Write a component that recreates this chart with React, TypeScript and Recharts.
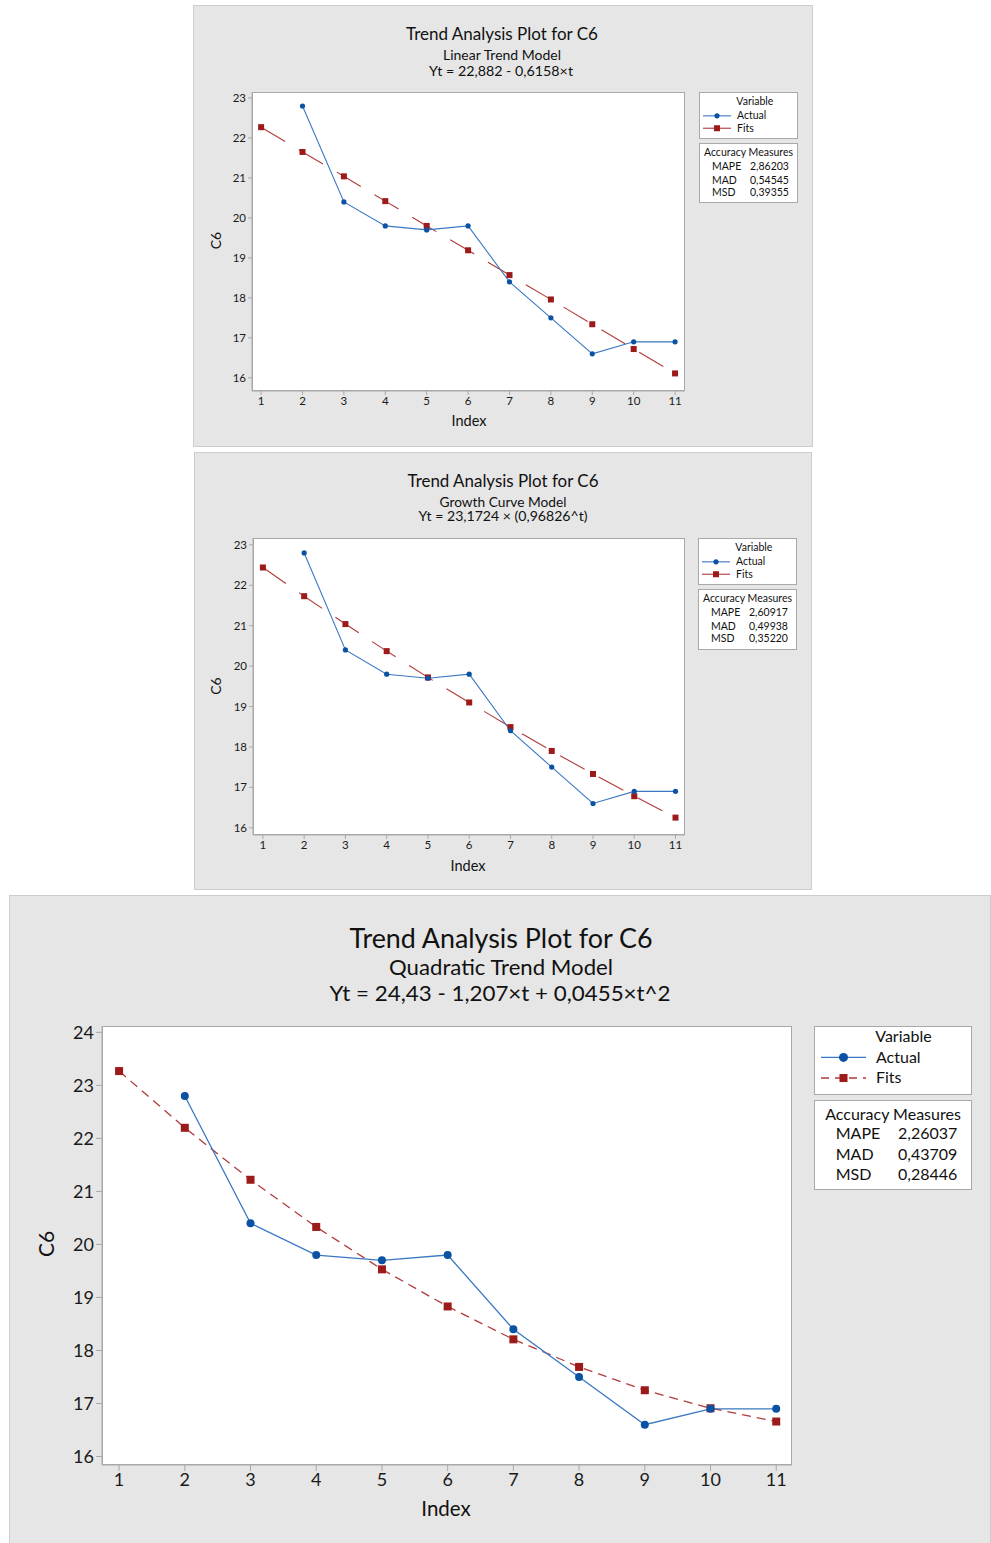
import React from "react";
import { LineChart, Line, XAxis, YAxis } from "recharts";

// index 1..11, actual value missing at t=1
const index = [1, 2, 3, 4, 5, 6, 7, 8, 9, 10, 11];
const actual = [null, 22.8, 20.4, 19.8, 19.7, 19.8, 18.4, 17.5, 16.6, 16.9, 16.9];
const linearFits = [22.27, 21.65, 21.04, 20.42, 19.8, 19.19, 18.57, 17.96, 17.34, 16.72, 16.11];
const growthFits = [22.44, 21.73, 21.04, 20.37, 19.72, 19.1, 18.49, 17.9, 17.33, 16.78, 16.25];
const quadFits = [23.27, 22.2, 21.22, 20.33, 19.53, 18.83, 18.21, 17.69, 17.25, 16.91, 16.66];
const yTicksSmall = [16, 17, 18, 19, 20, 21, 22, 23];
const yTicksBig = [16, 17, 18, 19, 20, 21, 22, 23, 24];
const linearAcc = ["2,86203", "0,54545", "0,39355"];
const growthAcc = ["2,60917", "0,49938", "0,35220"];
const quadAcc = ["2,26037", "0,43709", "0,28446"];
const accLabels = ["MAPE", "MAD", "MSD"];

const FONT = "Lato, 'Open Sans', sans-serif";
const BLUE_LINE = "#3a78c4";
const BLUE_DOT = "#0b52a3";
const RED_LINE = "#b23a3a";
const RED_DOT = "#9c1a1a";

type Rect = { x: number; y: number; w: number; h: number };

const squareDot = (size: number) => (p: any) => {
  if (p.value == null || p.cy == null || isNaN(p.cy)) return <g key={`s-${p.index}`} />;
  return (
    <rect key={`s-${p.index}`} x={p.cx - size / 2} y={p.cy - size / 2} width={size} height={size} fill={RED_DOT} />
  );
};
const circleDot = (r: number) => (p: any) => {
  if (p.value == null || p.cy == null || isNaN(p.cy)) return <g key={`c-${p.index}`} />;
  return <circle key={`c-${p.index}`} cx={p.cx} cy={p.cy} r={r} fill={BLUE_DOT} />;
};

function Panel(props: {
  box: Rect;
  plot: Rect;
  xDomain: [number, number];
  yDomain: [number, number];
  yTicks: number[];
  fits: number[];
  tickFont: number;
  tickSize: number;
  lineW: number;
  dotR: number;
  sq: number;
  dash: string;
}) {
  const { box, plot } = props;
  const data = index.map((t, i) => ({ t, actual: actual[i], fits: props.fits[i] }));
  const tickStyle = { fontSize: props.tickFont, fill: "#1a1a1a", fontFamily: FONT };
  return (
    <>
      <div
        style={{
          position: "absolute", left: box.x, top: box.y, width: box.w, height: box.h,
          background: "#e6e6e6", border: "1px solid #cdcdcd", boxSizing: "border-box",
        }}
      />
      <div
        style={{
          position: "absolute", left: plot.x, top: plot.y, width: plot.w, height: plot.h,
          background: "#fff", border: "1px solid #a9a9a9", boxSizing: "border-box",
        }}
      />
      <div style={{ position: "absolute", left: box.x, top: box.y }}>
        <LineChart
          width={box.w}
          height={box.h}
          data={data}
          margin={{ top: plot.y - box.y, right: box.x + box.w - plot.x - plot.w, left: 0, bottom: 0 }}
        >
          <XAxis
            dataKey="t" type="number" domain={props.xDomain} ticks={index} interval={0}
            allowDataOverflow height={box.y + box.h - plot.y - plot.h}
            tick={tickStyle} tickSize={props.tickSize} tickMargin={2}
            stroke="#a9a9a9"
          />
          <YAxis
            type="number" domain={props.yDomain} ticks={props.yTicks} interval={0}
            allowDataOverflow width={plot.x - box.x}
            tick={tickStyle} tickSize={props.tickSize} tickMargin={2}
            stroke="#a9a9a9"
          />
          <Line
            dataKey="fits" stroke={RED_LINE} strokeWidth={props.lineW} strokeDasharray={props.dash}
            dot={squareDot(props.sq)} activeDot={false} isAnimationActive={false} type="linear"
          />
          <Line
            dataKey="actual" stroke={BLUE_LINE} strokeWidth={props.lineW} connectNulls={false}
            dot={circleDot(props.dotR)} activeDot={false} isAnimationActive={false} type="linear"
          />
        </LineChart>
      </div>
    </>
  );
}

function T(p: { x: number; y: number; s: number; len?: number; anchor?: string; children: any; rot?: boolean }) {
  return (
    <text
      x={p.x} y={p.y} fontSize={p.s} fontFamily={FONT} fill="#111"
      textAnchor={(p.anchor as any) || "middle"}
      textLength={p.len} lengthAdjust={p.len ? "spacingAndGlyphs" : undefined}
      transform={p.rot ? `rotate(-90 ${p.x} ${p.y})` : undefined}
    >
      {p.children}
    </text>
  );
}

function LegendBoxes(p: {
  x: number; w: number; y1: number; h1: number; y2: number; h2: number; s: number;
  varY: number; actY: number; fitY: number; textX: number; symX1: number; symX2: number;
  accY: number; rowY: number[]; labX: number; valX: number; vals: string[];
  r: number; sq: number; dash?: string; lw: number;
}) {
  const cx = (p.symX1 + p.symX2) / 2;
  return (
    <g>
      <rect x={p.x + 0.5} y={p.y1 + 0.5} width={p.w} height={p.h1} fill="#fff" stroke="#a9a9a9" />
      <rect x={p.x + 0.5} y={p.y2 + 0.5} width={p.w} height={p.h2} fill="#fff" stroke="#a9a9a9" />
      <T x={p.x + p.w * 0.57} y={p.varY} s={p.s}>Variable</T>
      <line x1={p.symX1} x2={p.symX2} y1={p.actY - p.s * 0.33} y2={p.actY - p.s * 0.33} stroke={BLUE_LINE} strokeWidth={p.lw} />
      <circle cx={cx} cy={p.actY - p.s * 0.33} r={p.r} fill={BLUE_DOT} />
      <line x1={p.symX1} x2={p.symX2} y1={p.fitY - p.s * 0.33} y2={p.fitY - p.s * 0.33} stroke={RED_LINE} strokeWidth={p.lw} strokeDasharray={p.dash} />
      <rect x={cx - p.sq / 2} y={p.fitY - p.s * 0.33 - p.sq / 2} width={p.sq} height={p.sq} fill={RED_DOT} />
      <T x={p.textX} y={p.actY} s={p.s} anchor="start">Actual</T>
      <T x={p.textX} y={p.fitY} s={p.s} anchor="start">Fits</T>
      <T x={p.x + p.w / 2 + 0.5} y={p.accY} s={p.s}>Accuracy Measures</T>
      {accLabels.map((l, i) => (
        <React.Fragment key={l}>
          <T x={p.labX} y={p.rowY[i]} s={p.s} anchor="start">{l}</T>
          <T x={p.valX} y={p.rowY[i]} s={p.s} anchor="start">{p.vals[i]}</T>
        </React.Fragment>
      ))}
    </g>
  );
}

export default function App() {
  return (
    <div style={{ position: "absolute", left: 0, top: 0, width: 991, height: 1543, background: "#fff", overflow: "hidden" }}>
      <Panel
        box={{ x: 193, y: 5, w: 620, h: 442 }}
        plot={{ x: 252, y: 92, w: 433, h: 299 }}
        xDomain={[0.78, 11.24]} yDomain={[15.67, 23.15]} yTicks={yTicksSmall}
        fits={linearFits} tickFont={11.5} tickSize={4} lineW={1.1} dotR={2.6} sq={6} dash="28 16"
      />
      <Panel
        box={{ x: 194, y: 452, w: 618, h: 438 }}
        plot={{ x: 253, y: 538, w: 432, h: 297 }}
        xDomain={[0.76, 11.23]} yDomain={[15.82, 23.17]} yTicks={yTicksSmall}
        fits={growthFits} tickFont={11.5} tickSize={4} lineW={1.1} dotR={2.6} sq={6} dash="28 16"
      />
      <Panel
        box={{ x: 9, y: 895, w: 982, h: 650 }}
        plot={{ x: 102, y: 1026, w: 690, h: 439 }}
        xDomain={[0.74, 11.24]} yDomain={[15.84, 24.12]} yTicks={yTicksBig}
        fits={quadFits} tickFont={18} tickSize={6} lineW={1.3} dotR={4} sq={8} dash="9 6"
      />
      <svg width={991} height={1543} style={{ position: "absolute", left: 0, top: 0, pointerEvents: "none" }}>
        {/* panel 1 */}
        <T x={502} y={40} s={16.5} len={192}>Trend Analysis Plot for C6</T>
        <T x={502} y={60} s={13.5} len={118}>Linear Trend Model</T>
        <T x={501} y={75.5} s={13.5} len={144}>Yt = 22,882 - 0,6158×t</T>
        <T x={221} y={240.5} s={14} rot>C6</T>
        <T x={469} y={426} s={14.5}>Index</T>
        <LegendBoxes
          x={699} w={98} y1={92} h1={46} y2={143} h2={59} s={10.5}
          varY={105} actY={119.3} fitY={131.7} textX={737} symX1={703} symX2={731}
          accY={156} rowY={[169.7, 183.7, 196.3]} labX={712} valX={750} vals={linearAcc}
          r={2.6} sq={6} lw={1.1}
        />
        {/* panel 2 */}
        <T x={503} y={487} s={16.5} len={191}>Trend Analysis Plot for C6</T>
        <T x={503} y={507} s={13.5} len={127}>Growth Curve Model</T>
        <T x={503} y={521} s={13.5} len={169}>Yt = 23,1724 × (0,96826^t)</T>
        <T x={221} y={686} s={14} rot>C6</T>
        <T x={468} y={871} s={14.5}>Index</T>
        <LegendBoxes
          x={698} w={98} y1={538} h1={46} y2={589} h2={60} s={10.5}
          varY={551} actY={565.3} fitY={577.7} textX={736} symX1={702} symX2={730}
          accY={602} rowY={[615.7, 629.7, 642.3]} labX={711} valX={749} vals={growthAcc}
          r={2.6} sq={6} lw={1.1}
        />
        {/* panel 3 */}
        <T x={501} y={948.3} s={26} len={303}>Trend Analysis Plot for C6</T>
        <T x={501} y={975} s={20.5} len={224}>Quadratic Trend Model</T>
        <T x={500} y={1001} s={21} len={341}>Yt = 24,43 - 1,207×t + 0,0455×t^2</T>
        <T x={54} y={1244} s={21} rot>C6</T>
        <T x={446} y={1516} s={20.5}>Index</T>
        <LegendBoxes
          x={814} w={157} y1={1026} h1={68} y2={1100} h2={89} s={16}
          varY={1041.7} actY={1062.7} fitY={1083.3} textX={876} symX1={821} symX2={866}
          accY={1120} rowY={[1139, 1160, 1180]} labX={835.7} valX={898} vals={quadAcc}
          r={4.5} sq={8} dash="8 6" lw={1.3}
        />
      </svg>
    </div>
  );
}
